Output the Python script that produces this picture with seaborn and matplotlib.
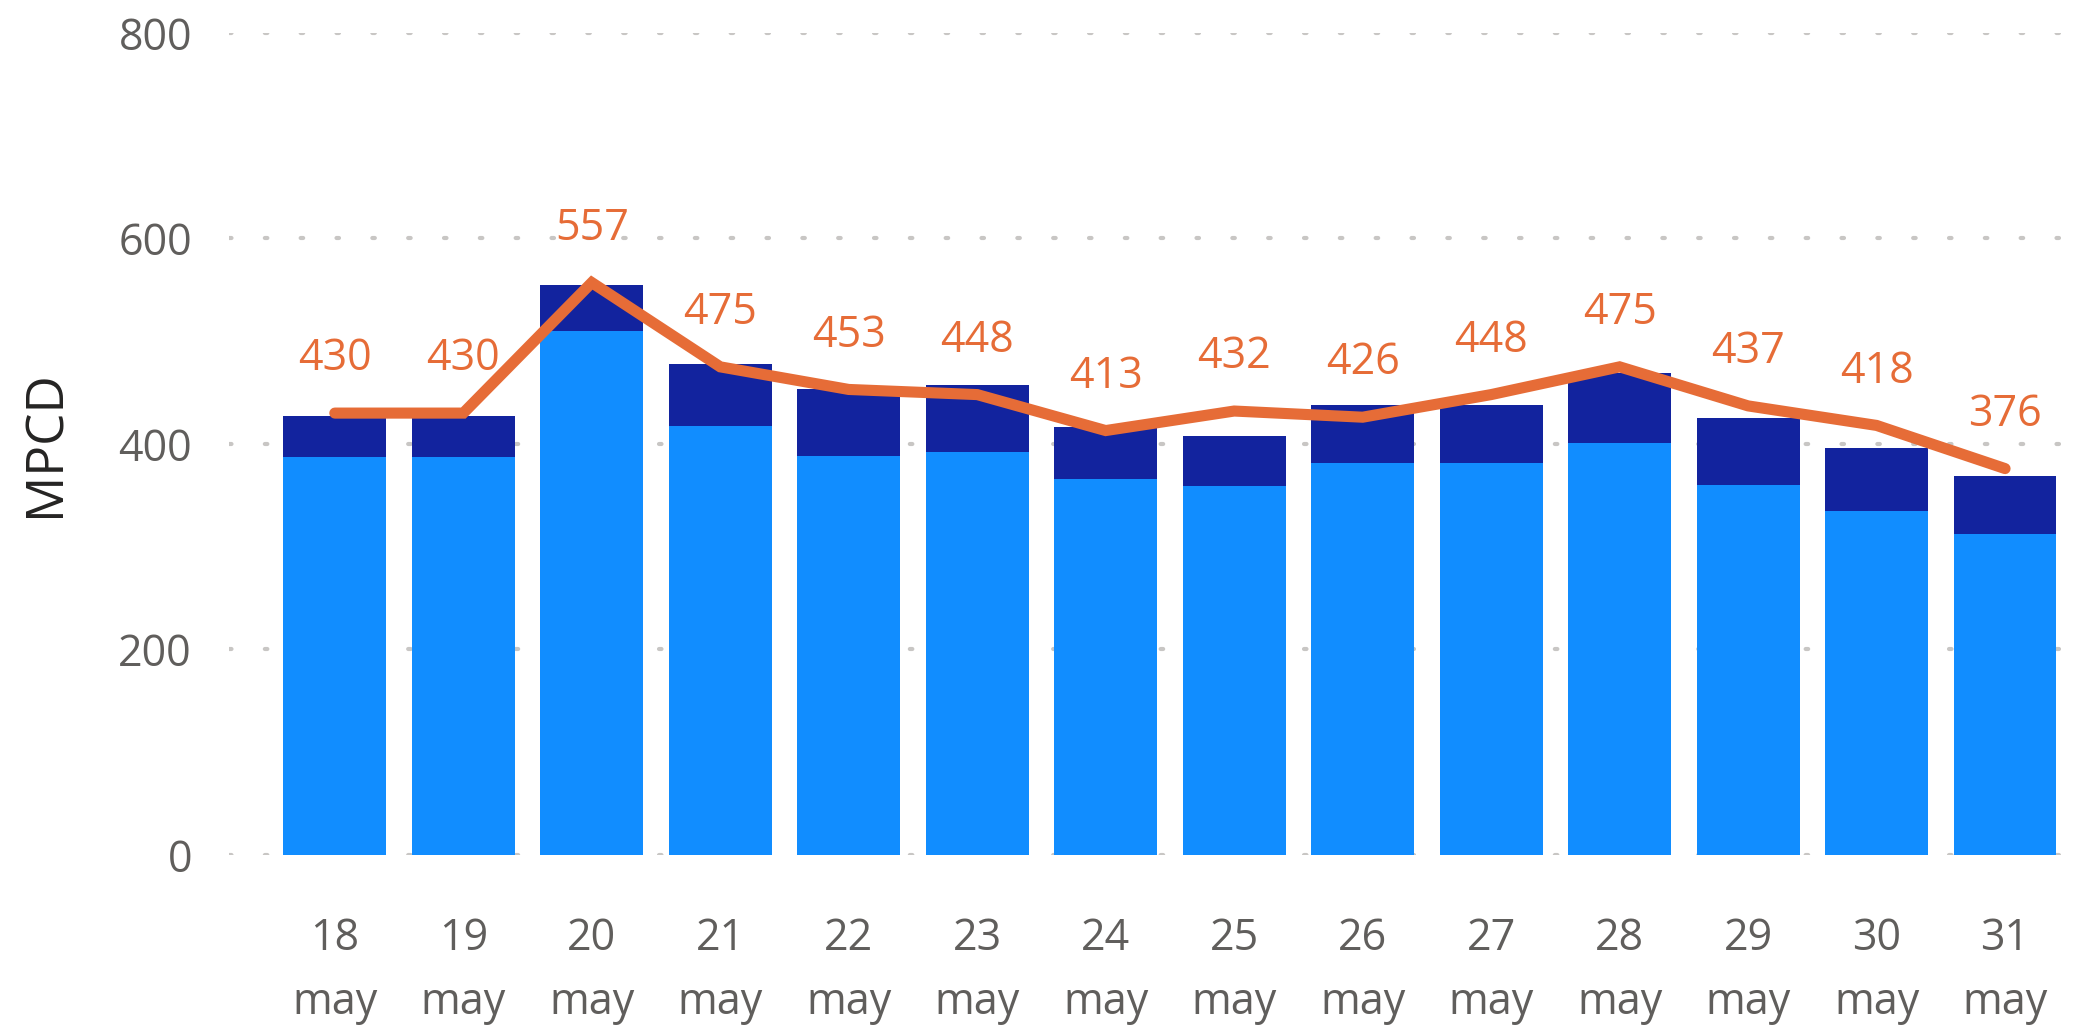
import numpy as np
import pandas as pd
import matplotlib
matplotlib.use("Agg")
import matplotlib.pyplot as plt
import seaborn as sns

# data
days = ["18", "19", "20", "21", "22", "23", "24", "25", "26", "27", "28", "29", "30", "31"]
month = "may"
light = [387, 387, 510, 417, 388, 392, 366, 359, 381, 381, 401, 360, 335, 312]
dark = [40, 40, 45, 61, 65, 65, 50, 49, 57, 57, 68, 65, 61, 57]
mpcd = [430, 430, 557, 475, 453, 448, 413, 432, 426, 448, 475, 437, 418, 376]
yticks = [0, 200, 400, 600, 800]

c_light = "#118DFF"
c_dark = "#12239E"
c_line = "#E66C37"
c_text = "#605E5C"

sns.set_style("white")
plt.rcParams['font.family'] = ['Open Sans', 'DejaVu Sans']

df = pd.DataFrame({"day": [d + "\n" + month for d in days],
                   "light": light, "dark": dark, "mpcd": mpcd})
df["total"] = df["light"] + df["dark"]
df["pos"] = np.arange(len(df))

fig = plt.figure(figsize=(20.86, 10.27), dpi=100)
ax = fig.add_axes([0.110, 0.1675, 0.882, 0.8005])

# stacked bars: total in dark, lower part in light on top of it
sns.barplot(data=df, x="day", y="total", color=c_dark, saturation=1, width=0.8,
            linewidth=0, edgecolor="none", ax=ax, zorder=2)
sns.barplot(data=df, x="day", y="light", color=c_light, saturation=1, width=0.8,
            linewidth=0, edgecolor="none", ax=ax, zorder=3)

sns.lineplot(data=df, x="pos", y="mpcd", color=c_line, linewidth=8, ax=ax,
             zorder=4, sort=False)
for line in ax.lines:
    line.set_solid_capstyle("round")
    line.set_solid_joinstyle("miter")

for i, v in enumerate(mpcd):
    ax.annotate(str(v), (i, v), xytext=(0, 39), textcoords="offset points",
                ha="center", va="center", fontsize=31, color=c_line, zorder=5)

ax.set_ylim(0, 800)
ax.set_xlim(-0.82, 13.5)
ax.set_yticks(yticks)
ax.yaxis.grid(True, color="#C8C6C4", linestyle=(0, (0.6, 8)), linewidth=3,
              dash_capstyle="round")
ax.set_axisbelow(True)
for s in ax.spines.values():
    s.set_visible(False)

ax.tick_params(axis="both", length=0, labelsize=31, labelcolor=c_text)
ax.tick_params(axis="y", pad=27)
ax.tick_params(axis="x", pad=44)
for lab in ax.get_xticklabels():
    lab.set_linespacing(1.6)

ax.set_xlabel("")
ax.set_ylabel("MPCD", fontsize=37, color="#252423")
ax.yaxis.set_label_coords(-0.086, 0.5)

fig.savefig("out.png", dpi=100, facecolor="white")
